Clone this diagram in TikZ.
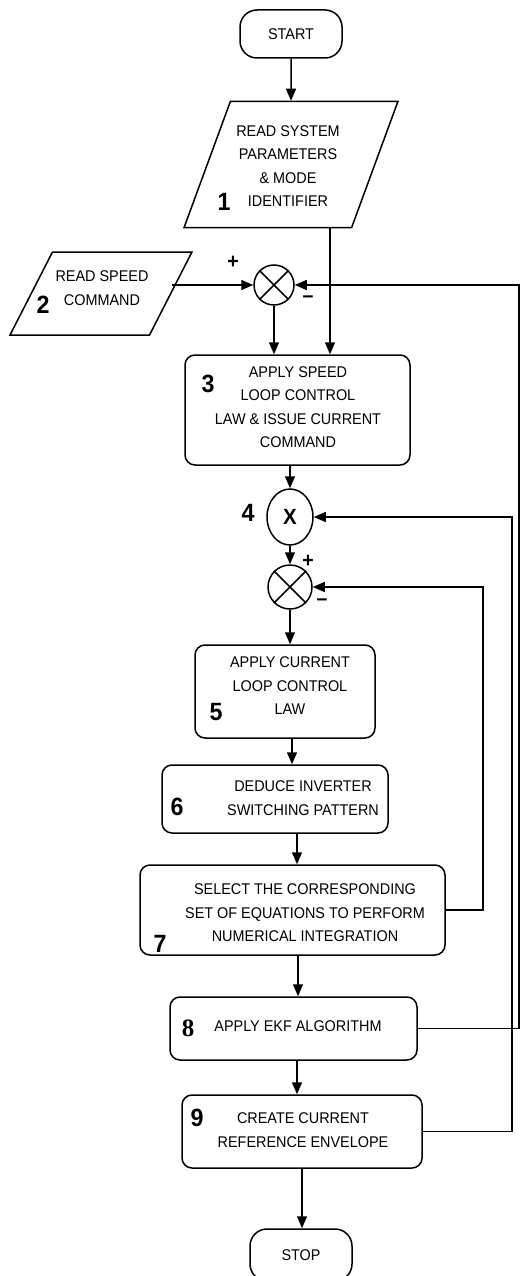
\documentclass[tikz,border=0pt]{standalone}
\usepackage{fontspec}
\setmainfont{Liberation Sans}[FakeStretch=0.93]
\newfontfamily\numserif{Liberation Serif}
\usetikzlibrary{arrows.meta,shapes.geometric}

\tikzset{
  arr/.style={line width=1.5pt, -{Triangle[length=12pt,width=10pt]}},
  link/.style={line width=1.5pt},
  procbox/.style={draw, line width=1.5pt, rounded corners=10pt, inner sep=0pt},
  termbox/.style={draw, line width=1.5pt, rounded corners=17pt, inner sep=0pt,
    minimum width=102pt, font=\fontsize{15.5}{17}\selectfont},
  iobox/.style={draw, line width=1.5pt, trapezium, trapezium stretches=true, inner sep=1pt},
  sumnode/.style={draw, line width=1.5pt, circle, inner sep=0pt},
  txt/.style={align=center, font=\fontsize{15.5}{23.5}\selectfont},
  stepnum/.style={font=\fontsize{25}{25}\selectfont\bfseries},
  sgn/.style={font=\fontsize{21}{21}\selectfont\bfseries}
}

\begin{document}
\begin{tikzpicture}[x=1pt, y=-1pt]
  \clip (0,0) rectangle (521,1276);

  % terminals
  \node[termbox, minimum height=48pt] (start) at (291,34) {START};
  \node[termbox, minimum height=52pt] (stop) at (301,1255) {STOP};

  % input blocks
  \node[iobox, trapezium left angle=70.6, trapezium right angle=109.4,
        minimum width=214pt, minimum height=126pt] (p1) at (291,164.5) {\phantom{X}};
  \node[txt] (t1) at (288,166) {READ SYSTEM\\PARAMETERS\\\& MODE\\IDENTIFIER};
  \node[stepnum] (n1) at (224,202) {1};

  \node[iobox, trapezium left angle=68, trapezium right angle=112,
        minimum width=182pt, minimum height=83pt] (p2) at (101,293.5) {\phantom{X}};
  \node[txt] (t2) at (102,288) {READ SPEED\\COMMAND};
  \node[stepnum] (n2) at (43,305) {2};

  % junctions
  \node[sumnode, minimum size=40pt] (s1) at (274,285) {};
  \draw[link] (s1.45) -- (s1.225) (s1.135) -- (s1.315);
  \node[sgn] (s1p) at (233,262) {+};
  \node[sgn] (s1m) at (308,299) {--};

  \node[draw, line width=1.5pt, ellipse, minimum width=46pt, minimum height=56pt,
        inner sep=0pt, font=\fontsize{22}{22}\selectfont\bfseries] (m4) at (290,517) {X};
  \node[stepnum] (n4) at (248,513) {4};

  \node[sumnode, minimum size=44pt] (s2) at (290,587) {};
  \draw[link] (s2.45) -- (s2.225) (s2.135) -- (s2.315);
  \node[sgn] (s2p) at (308,561) {+};
  \node[sgn] (s2m) at (322,602) {--};

  % process boxes
  \node[procbox, minimum width=225pt, minimum height=110pt] (b3) at (297.5,410) {};
  \node[txt] (t3) at (298,407) {APPLY SPEED\\LOOP CONTROL\\LAW \& ISSUE CURRENT\\COMMAND};
  \node[stepnum] (n3) at (208,384) {3};

  \node[procbox, minimum width=180pt, minimum height=93pt] (b5) at (285,691.5) {};
  \node[txt] (t5) at (290,686) {APPLY CURRENT\\LOOP CONTROL\\LAW};
  \node[stepnum] (n5) at (216,712) {5};

  \node[procbox, minimum width=226pt, minimum height=68pt] (b6) at (275,799) {};
  \node[txt] (t6) at (303,798) {DEDUCE INVERTER\\SWITCHING PATTERN};
  \node[stepnum] (n6) at (177,807) {6};

  \node[procbox, minimum width=305pt, minimum height=90pt] (b7) at (292.5,910) {};
  \node[txt] (t7) at (305,913) {SELECT THE CORRESPONDING\\SET OF EQUATIONS TO PERFORM\\NUMERICAL INTEGRATION};
  \node[stepnum] (n7) at (160,944) {7};

  \node[procbox, minimum width=247pt, minimum height=63pt] (b8) at (293.5,1028.5) {};
  \node[txt] (t8) at (298,1026) {APPLY EKF ALGORITHM};
  \node[stepnum, font=\fontsize{25}{25}\selectfont\bfseries\numserif] (n8) at (188,1028) {8};

  \node[procbox, minimum width=240pt, minimum height=73pt] (b9) at (302,1131.5) {};
  \node[txt] (t9) at (303,1130) {CREATE CURRENT\\REFERENCE ENVELOPE};
  \node[stepnum] (n9) at (197,1118) {9};

  % feedback rails
  \coordinate (railA) at (519,0);
  \coordinate (railB) at (512,0);
  \coordinate (railC) at (483,0);

  % main flow
  \draw[arr] (start.south) -- (p1.north);
  \draw[arr] ([xshift=39pt]p1.south) -- ([xshift=39pt]p1.south |- b3.north);
  \draw[arr] (p2.east |- s1.west) -- (s1.west);
  \draw[arr] (s1.south) -- (s1.south |- b3.north);
  \draw[arr] (m4.north |- b3.south) -- (m4.north);
  \draw[arr] (m4.south) -- (s2.north);
  \draw[arr] (s2.south) -- (s2.south |- b5.north);
  \draw[arr] ([xshift=7pt]b5.south) -- ([xshift=7pt]b5.south |- b6.north);
  \draw[arr] ([xshift=22pt]b6.south) -- ([xshift=22pt]b6.south |- b7.north);
  \draw[arr] ([xshift=5.5pt]b7.south) -- ([xshift=5.5pt]b7.south |- b8.north);
  \draw[arr] ([xshift=3.5pt]b8.south) -- ([xshift=3.5pt]b8.south |- b9.north);
  \draw[arr] (b9.south) -- (b9.south |- stop.north);

  % loops back
  \draw[arr] (b8.east) -- (b8.east -| railA) -- (railA |- s1.east) -- (s1.east);
  \draw[arr] (b9.east) -- (b9.east -| railB) -- (railB |- m4.east) -- (m4.east);
  \draw[arr] (b7.east) -- (b7.east -| railC) -- (railC |- s2.east) -- (s2.east);
\end{tikzpicture}
\end{document}
